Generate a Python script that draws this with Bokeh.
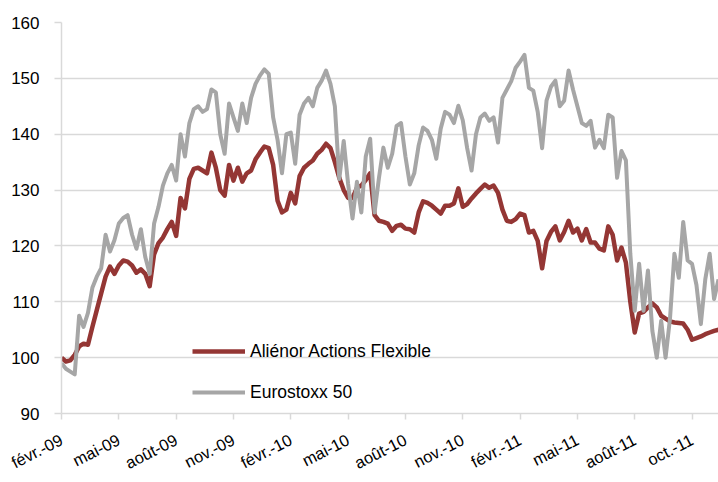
import math
from bokeh.plotting import figure
from bokeh.models import Range1d, FixedTicker, Legend, LegendItem
from bokeh.embed import file_html
from bokeh.resources import INLINE

# Tick labels (one every 13 weekly observations)
tick_labels = ["févr.-09", "mai-09", "août-09", "nov.-09", "févr.-10", "mai-10",
               "août-10", "nov.-10", "févr.-11", "mai-11", "août-11", "oct.-11"]
tick_step = 13
y_ticks = [90, 100, 110, 120, 130, 140, 150, 160]

# Weekly values (base 100)
alienor = [
    100, 99.3, 99.5, 100.5, 102, 102.5, 102.3, 105.5, 108.5, 111.5,
    114.5, 116.3, 115, 116.5, 117.4, 117.2, 116.5, 115.2, 115.8, 115,
    112.8, 118.5, 120.5, 121.5, 123, 124.3, 121.8, 128.6, 126.7, 132,
    133.8, 134, 133.5, 133, 136.7, 134, 130, 129, 134.5, 131.7,
    134, 131.5, 133, 133.5, 135.5, 136.7, 137.8, 137.5, 134.5, 128.1,
    126, 126.5, 129.5, 127.6, 132.5, 134, 134.7, 135.3, 136.5, 137.2,
    138.3, 137.5, 135, 132.2, 130, 128.6, 128.6, 130.4, 130.8, 131.8,
    133, 125.5, 124.5, 124.3, 124, 122.7, 123.6, 123.8, 123.1, 123,
    122.4, 126, 128, 127.7, 127.2, 126.5, 125.8, 127.2, 127.2, 127.6,
    130.3, 127, 127.5, 128.5, 129.4, 130.2, 131, 130.4, 130.8, 129.5,
    126.5, 124.5, 124.3, 124.8, 125.8, 125.5, 122.4, 122.7, 120.9, 116,
    120.9, 122.5, 123.5, 121, 122.5, 124.5, 122.4, 123.1, 121, 123,
    120.6, 120.6, 119.5, 119.2, 123.5, 122, 117.4, 119.7, 117, 110,
    104.5, 107.9, 108.2, 109, 109.7, 109, 107.5, 107, 106.5, 106.3,
    106.2, 106.1, 105, 103.2, 103.5, 103.8, 104.2, 104.5, 104.8, 105,
]
eurostoxx = [
    99, 98, 97.5, 97, 107.5, 105.5, 108, 112.5, 114.5, 116,
    122, 119, 121, 124, 125, 125.5, 122, 119.5, 123, 118,
    115, 124, 127, 130.8, 133, 134.5, 131.7, 140, 136, 142,
    144.5, 145, 144, 144.5, 148, 147.5, 140, 136.5, 145.5, 143,
    140.6, 145.5, 142, 146.5, 149, 150.5, 151.6, 150.8, 143, 139,
    133, 140, 140.3, 134.7, 143.5, 145.5, 146.5, 145, 148.3, 149.6,
    151.4, 149, 145, 132, 138.8, 131.1, 124.9, 131.5, 126, 136,
    139.2, 126, 132.2, 137.6, 134, 136.5, 141.5, 142, 136, 131,
    133, 138, 141.2, 140.6, 139, 135.6, 141, 144, 143.5, 142,
    145.1, 142.5, 137.5, 133.5, 140, 143, 143.7, 142.4, 143, 138.5,
    146.5, 148, 149.5, 151.9, 153, 154.2, 148.3, 147.8, 144, 137.5,
    146, 148.5, 149.6, 145, 146, 151.4, 148, 145, 142, 141.5,
    142.4, 137.6, 139, 137.5, 143.5, 143, 132.2, 137, 135.3, 118.6,
    108.4, 116.8, 108.4, 115.6, 104.8, 100, 106.6, 100, 107, 118.6,
    114.3, 124.3, 117.4, 116.8, 113, 106, 114, 118.6, 110.5, 114,
]

series_names = ["Aliénor Actions Flexible", "Eurostoxx 50"]
series_colors = ["#943634", "#a6a6a6"]

x = list(range(len(alienor)))
FONT = "Liberation Sans"
GRID = "#d9d9d9"

p = figure(width=718, height=482, output_backend="svg", toolbar_location=None,
           x_range=Range1d(0, len(alienor) - 1), y_range=Range1d(90, 160),
           min_border_left=61, min_border_right=0, min_border_top=22,
           min_border_bottom=69)
p.outline_line_color = None
p.background_fill_color = "white"

# grid
p.xgrid.visible = False
p.ygrid.ticker = FixedTicker(ticks=y_ticks)
p.ygrid.grid_line_color = GRID
p.ygrid.grid_line_width = 1.5

# y axis
p.yaxis.ticker = FixedTicker(ticks=y_ticks)
p.yaxis.axis_line_color = GRID
p.yaxis.axis_line_width = 1.5
p.yaxis.major_tick_line_color = GRID
p.yaxis.major_tick_line_width = 1.5
p.yaxis.major_tick_out = 7
p.yaxis.major_tick_in = 0
p.yaxis.minor_tick_line_color = None
p.yaxis.major_label_text_font = FONT
p.yaxis.major_label_text_font_size = "17px"
p.yaxis.major_label_text_color = "#000000"
p.yaxis.major_label_standoff = 15

# x axis
ticks = [i * tick_step for i in range(len(tick_labels))]
p.xaxis.ticker = FixedTicker(ticks=ticks)
p.xaxis.major_label_overrides = {t: lab for t, lab in zip(ticks, tick_labels)}
p.xaxis.axis_line_color = GRID
p.xaxis.axis_line_width = 1.5
p.xaxis.major_tick_line_color = GRID
p.xaxis.major_tick_line_width = 1.5
p.xaxis.major_tick_out = 6
p.xaxis.major_tick_in = 0
p.xaxis.minor_tick_line_color = None
p.xaxis.major_label_orientation = math.radians(27)
p.xaxis.major_label_text_font = FONT
p.xaxis.major_label_text_font_size = "16.5px"
p.xaxis.major_label_text_color = "#000000"
p.xaxis.major_label_standoff = 19

r1 = p.line(x, alienor, line_color=series_colors[0], line_width=4.5, line_join="round")
r2 = p.line(x, eurostoxx, line_color=series_colors[1], line_width=4, line_join="round")

legend = Legend(items=[LegendItem(label=series_names[0], renderers=[r1]),
                       LegendItem(label=series_names[1], renderers=[r2])],
                location=(131, 9), padding=0, margin=0, spacing=17,
                glyph_width=53, glyph_height=24, label_height=24,
                label_standoff=5, border_line_color=None,
                background_fill_alpha=0, label_text_font=FONT,
                label_text_font_size="17.5px", label_text_color="#000000")
p.add_layout(legend)

open("out.html", "w").write(file_html(p, INLINE))
